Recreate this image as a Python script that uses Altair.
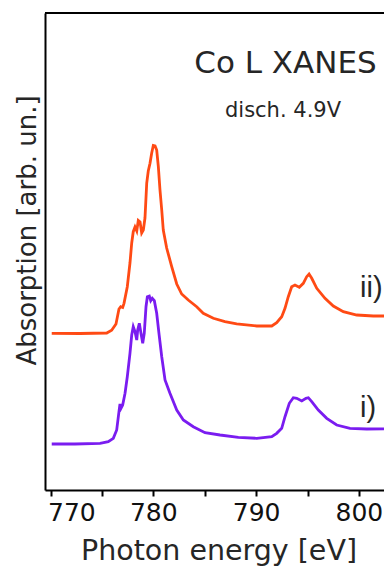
import altair as alt
import pandas as pd

# ---- data (photon energy in eV, absorption in arb. units) ----
energy_ii = [770.12, 772.87, 775.47, 775.95, 776.37, 776.66, 776.83, 777.02, 777.15, 777.47,
             777.73, 777.90, 778.05, 778.22, 778.39, 778.54, 778.71, 778.87, 779.03, 779.19,
             779.36, 779.51, 779.68, 779.84, 780.00, 780.17, 780.33, 780.49, 780.65, 780.82,
             780.97, 781.30, 781.79, 782.28, 782.76, 783.40, 784.22, 784.86, 785.84, 786.97,
             788.11, 790.06, 791.52, 792.00, 792.49, 792.81, 793.13, 793.46, 793.78, 794.20,
             794.59, 794.92, 795.15, 795.41, 795.90, 796.70, 797.51, 798.48, 799.79, 801.40,
             803.19, 803.60]
absorb_ii = [1.567, 1.565, 1.570, 1.597, 1.660, 1.810, 1.833, 1.825, 1.867, 2.033,
             2.270, 2.470, 2.583, 2.630, 2.590, 2.695, 2.680, 2.570, 2.600, 2.720,
             3.070, 3.190, 3.267, 3.367, 3.445, 3.440, 3.400, 3.233, 3.000, 2.800,
             2.600, 2.420, 2.233, 2.060, 1.960, 1.900, 1.833, 1.767, 1.717, 1.683,
             1.662, 1.640, 1.640, 1.673, 1.733, 1.817, 1.933, 2.033, 2.050, 2.027,
             2.067, 2.133, 2.160, 2.117, 2.017, 1.917, 1.840, 1.783, 1.750, 1.740,
             1.740, 1.740]

energy_i = [770.12, 772.38, 774.82, 775.62, 776.11, 776.44, 776.66, 776.76, 776.86, 777.02,
            777.25, 777.47, 777.73, 777.90, 778.05, 778.22, 778.39, 778.48, 778.64, 778.80,
            778.97, 779.12, 779.29, 779.42, 779.61, 779.75, 779.90, 780.10, 780.33, 780.55,
            780.82, 781.14, 781.62, 782.28, 782.92, 783.89, 785.03, 786.49, 788.27, 790.06,
            791.52, 792.00, 792.49, 792.81, 793.23, 793.62, 793.95, 794.44, 794.85, 795.08,
            795.41, 796.05, 796.87, 797.84, 799.13, 800.76, 803.19, 803.60]
absorb_i = [0.460, 0.460, 0.467, 0.483, 0.517, 0.600, 0.783, 0.860, 0.817, 0.850,
            0.967, 1.133, 1.367, 1.550, 1.633, 1.583, 1.500, 1.600, 1.667, 1.567,
            1.467, 1.567, 1.833, 1.933, 1.940, 1.893, 1.917, 1.893, 1.767, 1.567,
            1.333, 1.100, 0.967, 0.800, 0.700, 0.633, 0.573, 0.550, 0.527, 0.517,
            0.533, 0.567, 0.617, 0.733, 0.867, 0.923, 0.917, 0.890, 0.917, 0.923,
            0.883, 0.800, 0.717, 0.650, 0.617, 0.610, 0.613, 0.613]

series_names = ["ii)", "i)"]
series_colors = ["#FF4A14", "#7A1CF0"]
tick_values = [770, 775, 780, 785, 790, 795, 800]
x_domain = [769.465, 802.44]
y_domain = [0, 4.77]
title_text = "Co L XANES"
subtitle_text = "disch. 4.9V"

FONT = "DejaVu Sans"
FONT2 = "Liberation Sans"
W, H = 339, 477

df = pd.concat([
    pd.DataFrame({"energy": energy_ii, "absorption": absorb_ii, "series": series_names[0]}),
    pd.DataFrame({"energy": energy_i, "absorption": absorb_i, "series": series_names[1]}),
])

lines = alt.Chart(df).mark_line(strokeWidth=2.8, clip=True).encode(
    x=alt.X("energy:Q",
            scale=alt.Scale(domain=x_domain, nice=False, zero=False),
            axis=alt.Axis(values=tick_values,
                          labelExpr="datum.value % 10 == 0 ? datum.label : ''",
                          title="Photon energy [eV]",
                          titleFont=FONT, titleFontSize=28.5, titleFontWeight="normal",
                          titleColor="#262626", titleBaseline="alphabetic", titleY=69,
                          titleX=173.5,
                          labelFont=FONT, labelFontSize=25, labelColor="#111111",
                          labelBaseline="alphabetic", labelPadding=24,
                          labelFlush=10, labelFlushOffset=3,
                          tickSize=6, tickWidth=2, tickColor="black",
                          domainColor="black", domainWidth=2, grid=False)),
    y=alt.Y("absorption:Q",
            scale=alt.Scale(domain=y_domain, nice=False, zero=False),
            axis=alt.Axis(labels=False, ticks=False, grid=False,
                          domainColor="black", domainWidth=2,
                          title="Absorption [arb. un.]",
                          titleFont=FONT, titleFontSize=26, titleFontWeight="normal",
                          titleColor="#262626", titleAngle=270, titleAlign="center",
                          titleBaseline="alphabetic", titleX=-10, titleY=217)),
    color=alt.Color("series:N", scale=alt.Scale(domain=series_names, range=series_colors),
                    legend=None),
    detail="series:N",
)

one = pd.DataFrame({"k": [0]})
top_rule = alt.Chart(one).mark_rule(color="black", strokeWidth=2).encode(
    x=alt.value(0), x2=alt.value(W), y=alt.value(0))

def label(text, x, y, size, align="center", font=FONT):
    return alt.Chart(pd.DataFrame({"t": [text]})).mark_text(
        font=font, fontSize=size, align=align, baseline="alphabetic", color="#262626"
    ).encode(x=alt.value(x), y=alt.value(y), text="t:N")

chart = alt.layer(
    lines,
    top_rule,
    label(title_text, 240.5, 60, 31),
    label(subtitle_text, 238, 104, 21),
    label(series_names[0], 315, 284, 29, "left", FONT2),
    label(series_names[1], 315, 404, 29, "left", FONT2),
).properties(
    width=W, height=H,
    autosize=alt.AutoSizeParams(type="none"),
    padding={"left": 37, "top": 5, "right": 0, "bottom": 76},
).configure_view(stroke=None)

chart.save("out.html", embed_options={"renderer": "svg", "actions": False})
